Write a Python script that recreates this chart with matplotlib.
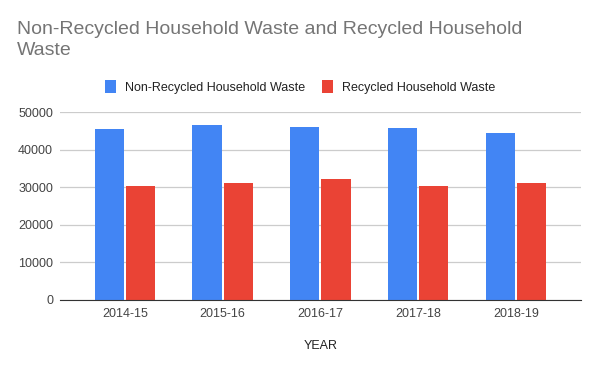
import numpy as np
import matplotlib.pyplot as plt

# data
years = ['2014-15', '2015-16', '2016-17', '2017-18', '2018-19']
non_recycled = [45500, 46600, 46100, 45800, 44500]
recycled = [30400, 31200, 32200, 30400, 31200]

plt.rcParams['font.family'] = ['Liberation Sans', 'DejaVu Sans']

fig = plt.figure(figsize=(6, 3.71), dpi=100)
ax = fig.add_axes([0.1, 0.1914, 0.868, 0.5066])

x = np.arange(len(years))
w = 0.3
ax.bar(x - w / 2 - 0.01, non_recycled, w, color='#4285f4', label='Non-Recycled Household Waste', zorder=3)
ax.bar(x + w / 2 + 0.01, recycled, w, color='#ea4335', label='Recycled Household Waste', zorder=3)

ax.set_xlim(-0.665, 4.665)
ax.set_ylim(0, 50000)
ax.set_yticks(range(0, 50001, 10000))
ax.set_xticks(x)
ax.set_xticklabels(years)
ax.tick_params(length=0, labelsize=9, labelcolor='#444444')
ax.tick_params(axis='y', pad=5)
ax.tick_params(axis='x', pad=6)
ax.grid(axis='y', color='#cccccc', linewidth=0.9, zorder=0)
for s in ['top', 'right', 'left']:
    ax.spines[s].set_visible(False)
ax.spines['bottom'].set_color('#333333')
ax.spines['bottom'].set_zorder(4)

ax.set_xlabel('YEAR', fontsize=9, color='#222222', labelpad=14)

fig.text(17 / 600, 1 - 21 / 371, 'Non-Recycled Household Waste and Recycled Household\nWaste',
         fontsize=14, color='#757575', va='top', ha='left', linespacing=1.32)

fig.legend(loc='center', bbox_to_anchor=(0.5, 1 - 87 / 371), ncol=2, frameon=False,
           fontsize=9, handlelength=0.9, handleheight=1.2, handletextpad=0.7,
           columnspacing=1.3, labelcolor='#222222')

fig.savefig('out.png', dpi=100)
